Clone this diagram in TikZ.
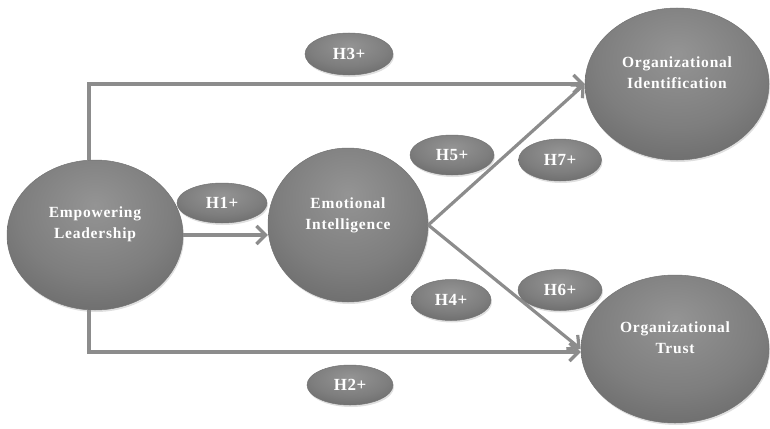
\documentclass[tikz,border=0pt]{standalone}
\usepackage{fontspec}
\setmainfont{Liberation Serif}
\usepackage{xcolor}
\usetikzlibrary{arrows.meta,shapes.geometric,shadows}
\usetikzlibrary{positioning}

\definecolor{orbin}{RGB}{148,148,148}
\definecolor{orbmid}{RGB}{126,126,126}
\definecolor{orbout}{RGB}{100,100,100}
\definecolor{linkgray}{RGB}{140,140,140}
\pgfdeclareradialshading{orb}{\pgfpoint{0bp}{10bp}}{color(0bp)=(orbin); color(22bp)=(orbmid); color(40bp)=(orbout); color(100bp)=(orbout)}

\begin{document}
\begin{tikzpicture}[x=1pt,y=-1pt,semithick]
	\tikzstyle{construct}=[ellipse, draw=black!55, line width=0.5pt, inner sep=0pt, shading=orb, drop shadow={shadow xshift=1pt, shadow yshift=-2pt, opacity=0.25}]
	\tikzstyle{hyp}=[construct, text=white, font=\addfontfeatures{LetterSpace=3}\bfseries\fontsize{17}{20}\selectfont]
	\tikzstyle{title}=[text=white, align=center, font=\addfontfeatures{LetterSpace=5}\bfseries\fontsize{15.5}{21}\selectfont]
	\tikzstyle{link}=[draw=linkgray, line width=3.2pt, -{Straight Barb[length=9pt,width=18pt]}]
	\useasboundingbox (0,0) rectangle (770,428);

	% constructs
	\node[construct, minimum width=176pt, minimum height=150pt] (EL) at (95,235) {};
	\node[construct, minimum width=160pt, minimum height=154pt] (EI) at (348,225) {};
	\node[construct, minimum width=184pt, minimum height=152pt] (OI) at (677,84) {};
	\node[construct, minimum width=188pt, minimum height=148pt] (OT) at (675,349) {};

	\node[title] (ELt) at ([yshift=11pt]EL) {Empowering\\Leadership};
	\node[title] (EIt) at ([yshift=10pt]EI) {Emotional\\Intelligence};
	\node[title] (OIt) at ([yshift=11pt]OI) {Organizational\\Identification};
	\node[title] (OTt) at ([yshift=11pt]OT) {Organizational\\Trust};

	% paths
	\path
		(EL.east) edge[link] (EI.west |- EL.east)
		(EI.east) edge[link] (OI.west)
		(EI.east) edge[link] (OT.west);
	\draw[link] ([xshift=-6pt]EL.north) |- (OI.west);
	\draw[link] ([xshift=-6pt]EL.south) |- ([yshift=-3pt]OT.west);

	% hypotheses
	\node[hyp, minimum width=88pt, minimum height=42pt] (H3) at (349,54) {H3+};
	\node[hyp, minimum width=90pt, minimum height=40pt] (H1) at (222,203) {H1+};
	\node[hyp, minimum width=84pt, minimum height=40pt] (H5) at (452,155) {H5+};
	\node[hyp, minimum width=83pt, minimum height=42pt] (H7) at (560,160) {H7+};
	\node[hyp, minimum width=80pt, minimum height=41pt] (H4) at (451,300) {H4+};
	\node[hyp, minimum width=84pt, minimum height=41pt] (H6) at (560,290) {H6+};
	\node[hyp, minimum width=86pt, minimum height=40pt] (H2) at (350,385) {H2+};
\end{tikzpicture}
\end{document}
